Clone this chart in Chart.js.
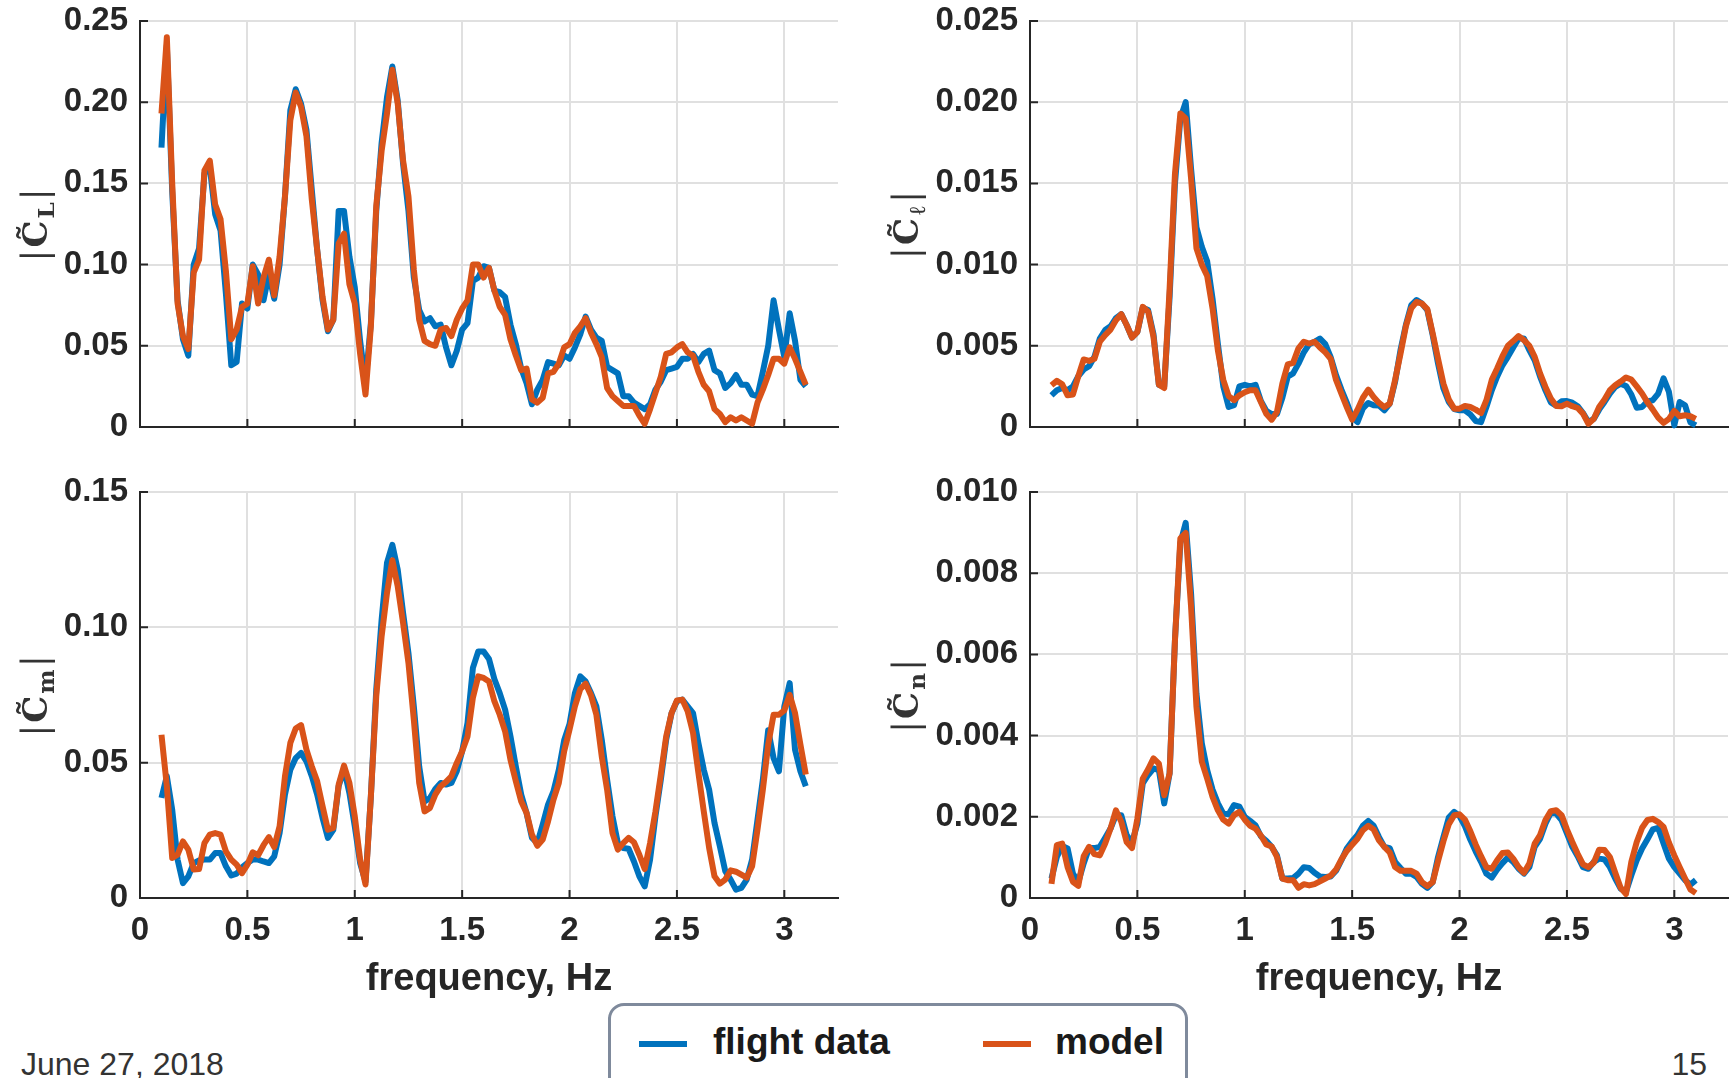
<!DOCTYPE html>
<html>
<head>
<meta charset="utf-8">
<title>frequency content</title>
<script src="https://cdn.jsdelivr.net/npm/chart.js@4.4.1/dist/chart.umd.min.js"></script>
<style>
  body { margin: 0; background: #fff; }
  #page { position: relative; width: 1733px; height: 1078px; overflow: hidden; background: #fff;
          font-family: "Liberation Sans", Arial, sans-serif; }
  canvas { position: absolute; }
  #legend { position: absolute; left: 608px; top: 1003px; width: 580px; height: 100px;
            border: 3px solid #7f8a9c; border-radius: 16px; box-sizing: border-box; }
  #legend .swatch { position: absolute; top: 35px; height: 6px; width: 48px; }
  #legend .txt { position: absolute; top: 14px; font-weight: bold; font-size: 37px; color: #1a1a1a; line-height: 44px; }
  .foot { position: absolute; top: 1045px; font-size: 32px; color: #333; line-height: 38px; }
</style>
</head>
<body>
<div id="page">
  <canvas id="cl" width="866" height="460" style="left:0;top:0"></canvas>
  <canvas id="croll" width="867" height="460" style="left:866px;top:0"></canvas>
  <canvas id="cm" width="866" height="537" style="left:0;top:465px"></canvas>
  <canvas id="cn" width="867" height="537" style="left:866px;top:465px"></canvas>
  <div id="legend">
    <span class="swatch" style="left:28px;background:#0072BD"></span>
    <span class="txt" style="left:102px">flight data</span>
    <span class="swatch" style="left:372px;background:#D95319"></span>
    <span class="txt" style="left:444px">model</span>
  </div>
  <div class="foot" style="left:21px">June 27, 2018</div>
  <div class="foot" style="right:26px">15</div>
</div>
<script>
const blue = "#0072BD";
const orange = "#D95319";
const axisColor = "#262626";

// frequency, Hz
const freq = [
  0.1, 0.125, 0.15, 0.175, 0.2, 0.225, 0.25, 0.275, 0.3, 0.325,
  0.35, 0.375, 0.4, 0.425, 0.45, 0.475, 0.5, 0.525, 0.55, 0.575,
  0.6, 0.625, 0.65, 0.675, 0.7, 0.725, 0.75, 0.775, 0.8, 0.825,
  0.85, 0.875, 0.9, 0.925, 0.95, 0.975, 1, 1.025, 1.05, 1.075,
  1.1, 1.125, 1.15, 1.175, 1.2, 1.225, 1.25, 1.275, 1.3, 1.325,
  1.35, 1.375, 1.4, 1.425, 1.45, 1.475, 1.5, 1.525, 1.55, 1.575,
  1.6, 1.625, 1.65, 1.675, 1.7, 1.725, 1.75, 1.775, 1.8, 1.825,
  1.85, 1.875, 1.9, 1.925, 1.95, 1.975, 2, 2.025, 2.05, 2.075,
  2.1, 2.125, 2.15, 2.175, 2.2, 2.225, 2.25, 2.275, 2.3, 2.325,
  2.35, 2.375, 2.4, 2.425, 2.45, 2.475, 2.5, 2.525, 2.55, 2.575,
  2.6, 2.625, 2.65, 2.675, 2.7, 2.725, 2.75, 2.775, 2.8, 2.825,
  2.85, 2.875, 2.9, 2.925, 2.95, 2.975, 3, 3.025, 3.05, 3.075,
  3.1
];

// |CL| lift
const clFlight = [
  0.172, 0.235, 0.145, 0.078, 0.054, 0.044, 0.100, 0.110, 0.156, 0.160,
  0.131, 0.121, 0.082, 0.038, 0.040, 0.076, 0.073, 0.100, 0.094, 0.078,
  0.094, 0.079, 0.100, 0.142, 0.195, 0.208, 0.199, 0.183, 0.146, 0.109,
  0.078, 0.059, 0.066, 0.133, 0.133, 0.105, 0.086, 0.053, 0.027, 0.064,
  0.133, 0.175, 0.203, 0.222, 0.201, 0.162, 0.133, 0.092, 0.072, 0.065,
  0.067, 0.062, 0.063, 0.049, 0.038, 0.047, 0.060, 0.064, 0.090, 0.092,
  0.099, 0.098, 0.084, 0.083, 0.080, 0.063, 0.051, 0.036, 0.027, 0.014,
  0.023, 0.029, 0.040, 0.039, 0.038, 0.044, 0.042, 0.049, 0.057, 0.068,
  0.060, 0.055, 0.053, 0.037, 0.035, 0.033, 0.019, 0.019, 0.015, 0.013,
  0.011, 0.014, 0.023, 0.028, 0.035, 0.036, 0.037, 0.042, 0.042, 0.045,
  0.040, 0.045, 0.047, 0.035, 0.033, 0.024, 0.027, 0.032, 0.026, 0.026,
  0.020, 0.019, 0.034, 0.050, 0.078, 0.060, 0.043, 0.070, 0.053, 0.029,
  0.025
];
const clModel = [
  0.193, 0.240, 0.150, 0.076, 0.056, 0.048, 0.095, 0.103, 0.158, 0.164,
  0.137, 0.128, 0.096, 0.054, 0.060, 0.074, 0.076, 0.099, 0.076, 0.092,
  0.103, 0.081, 0.105, 0.142, 0.189, 0.206, 0.197, 0.179, 0.140, 0.109,
  0.080, 0.060, 0.066, 0.113, 0.119, 0.088, 0.076, 0.045, 0.020, 0.062,
  0.136, 0.170, 0.193, 0.220, 0.199, 0.164, 0.142, 0.097, 0.066, 0.053,
  0.051, 0.050, 0.060, 0.061, 0.056, 0.066, 0.073, 0.078, 0.100, 0.100,
  0.092, 0.098, 0.084, 0.074, 0.069, 0.054, 0.044, 0.035, 0.036, 0.017,
  0.015, 0.018, 0.033, 0.034, 0.039, 0.049, 0.051, 0.058, 0.062, 0.067,
  0.058, 0.051, 0.043, 0.024, 0.019, 0.016, 0.013, 0.013, 0.013, 0.007,
  0.002, 0.011, 0.021, 0.031, 0.045, 0.046, 0.049, 0.051, 0.046, 0.044,
  0.034, 0.026, 0.022, 0.011, 0.008, 0.003, 0.006, 0.004, 0.006, 0.004,
  0.002, 0.015, 0.023, 0.032, 0.042, 0.042, 0.039, 0.049, 0.042, 0.034,
  0.026
];

// |Cl| rolling moment
const crollFlight = [
  0.00195, 0.00226, 0.0024, 0.00226, 0.0025, 0.00313, 0.00354, 0.00374, 0.00432, 0.00545,
  0.00597, 0.0062, 0.0067, 0.00695, 0.00628, 0.00551, 0.00586, 0.00735, 0.0072, 0.00572,
  0.0026, 0.0025, 0.008, 0.015, 0.019, 0.02, 0.0159, 0.0123, 0.0111, 0.0102,
  0.0079, 0.0051, 0.0025, 0.00123, 0.00134, 0.0025, 0.0026, 0.0025, 0.0026, 0.0016,
  0.001, 0.0008, 0.0008, 0.0018, 0.0031, 0.0033, 0.0039, 0.0046, 0.0051, 0.00525,
  0.00545, 0.0051, 0.0043, 0.0032, 0.0023, 0.0015, 0.0006, 0.0003, 0.00115, 0.00148,
  0.00134, 0.00132, 0.00103, 0.00144, 0.00278, 0.00473, 0.00628, 0.0075, 0.00782, 0.0076,
  0.0072, 0.00566, 0.0039, 0.00237, 0.00154, 0.00111, 0.00103, 0.00103, 0.00078, 0.00037,
  0.0003, 0.00123, 0.00226, 0.0031, 0.0038, 0.00432, 0.0049, 0.00545, 0.00545, 0.00473,
  0.0041, 0.0031, 0.00226, 0.00152, 0.00132, 0.00158, 0.0016, 0.0015, 0.00128, 0.00086,
  0.0003, 0.0005, 0.00107, 0.00154, 0.00206, 0.00247, 0.00267, 0.00253, 0.002, 0.00119,
  0.00123, 0.00158, 0.00165, 0.00206, 0.003, 0.00216, 0.0001, 0.00154, 0.00134, 0.00029,
  0.0001
];
const crollModel = [
  0.00257, 0.00284, 0.00263, 0.00195, 0.002, 0.00313, 0.00416, 0.00407, 0.0042, 0.00525,
  0.00566, 0.006, 0.00658, 0.00695, 0.00628, 0.00551, 0.00586, 0.0074, 0.0071, 0.00555,
  0.0026, 0.0024, 0.0085, 0.0156, 0.0193, 0.019, 0.0153, 0.011, 0.01, 0.0093,
  0.0073, 0.0047, 0.0029, 0.0019, 0.00165, 0.00195, 0.00214, 0.00226, 0.00226, 0.00154,
  0.00082, 0.00045, 0.00093, 0.00267, 0.00385, 0.00395, 0.00484, 0.00525, 0.00514, 0.00525,
  0.0049, 0.0046, 0.0042, 0.0029, 0.00206, 0.00123, 0.00045, 0.00107, 0.0018, 0.0023,
  0.00185, 0.00148, 0.00123, 0.00144, 0.0029, 0.0045, 0.0062, 0.0073, 0.0077, 0.0076,
  0.00726, 0.00576, 0.0042, 0.00267, 0.00169, 0.00113, 0.00113, 0.0013, 0.00123, 0.00107,
  0.00086, 0.00165, 0.0029, 0.0036, 0.00436, 0.005, 0.00529, 0.0056, 0.00535, 0.005,
  0.00432, 0.0033, 0.00247, 0.00175, 0.0013, 0.00128, 0.00144, 0.00128, 0.00117, 0.00082,
  0.0002, 0.0005, 0.00123, 0.00169, 0.00226, 0.00257, 0.0028, 0.00305, 0.00292, 0.0025,
  0.00206, 0.00152, 0.00107, 0.00058, 0.00025, 0.0005, 0.00099, 0.00066, 0.00072, 0.00066,
  0.0005
];

// |Cm| pitching moment
const cmFlight = [
  0.037, 0.045, 0.0326, 0.0142, 0.0055, 0.008, 0.0129, 0.0139, 0.0142, 0.0142,
  0.0166, 0.0166, 0.0117, 0.0083, 0.009, 0.0113, 0.0129, 0.0142, 0.0142, 0.0135,
  0.0129, 0.0154, 0.024, 0.0382, 0.0474, 0.0517, 0.0536, 0.0505, 0.045, 0.0382,
  0.0296, 0.0222, 0.0252, 0.0413, 0.0477, 0.0388, 0.0265, 0.0129, 0.006, 0.0376,
  0.077, 0.1028, 0.1238, 0.1305, 0.1213, 0.1053, 0.0905, 0.0708, 0.0486, 0.0357,
  0.0369, 0.0403, 0.0425, 0.0419, 0.0425, 0.0468, 0.0542, 0.0647, 0.085, 0.0911,
  0.0911, 0.0883, 0.0809, 0.0757, 0.0696, 0.0597, 0.0486, 0.0382, 0.0314, 0.0222,
  0.0203, 0.0271, 0.0345, 0.0394, 0.0474, 0.0583, 0.0643, 0.0757, 0.0819, 0.080,
  0.0757, 0.0708, 0.0585, 0.0437, 0.0302, 0.0203, 0.0185, 0.0182, 0.0135, 0.008,
  0.0043, 0.0142, 0.0302, 0.0437, 0.0585, 0.0683, 0.0727, 0.0733, 0.0708, 0.0683,
  0.0573, 0.0474, 0.040, 0.0277, 0.0191, 0.0099, 0.0068, 0.0031, 0.0037, 0.0068,
  0.0142, 0.0289, 0.0437, 0.062, 0.0517, 0.0468, 0.0708, 0.0794, 0.0548, 0.0468,
  0.0413
];
const cmModel = [
  0.0603, 0.0413, 0.0148, 0.016, 0.0209, 0.0179, 0.0105, 0.0107, 0.0203, 0.0234,
  0.024, 0.0234, 0.0172, 0.0142, 0.0123, 0.0092, 0.0123, 0.0169, 0.0158, 0.0195,
  0.0225, 0.0188, 0.0265, 0.045, 0.0573, 0.0626, 0.0639, 0.0548, 0.0486, 0.0431,
  0.0339, 0.0252, 0.0259, 0.0419, 0.0489, 0.0425, 0.0302, 0.0142, 0.005, 0.0376,
  0.0745, 0.0967, 0.1127, 0.1248, 0.1151, 0.1016, 0.0868, 0.0659, 0.0425, 0.032,
  0.0333, 0.0382, 0.0413, 0.0429, 0.045, 0.0499, 0.0542, 0.0597, 0.074, 0.0819,
  0.0813, 0.080, 0.0727, 0.0677, 0.0616, 0.0511, 0.0431, 0.0357, 0.0314, 0.0234,
  0.0193, 0.0216, 0.0283, 0.0363, 0.0425, 0.0542, 0.0622, 0.0708, 0.0772, 0.0792,
  0.0748, 0.0677, 0.0523, 0.040, 0.024, 0.0179, 0.0203, 0.0222, 0.0206, 0.016,
  0.0107, 0.0203, 0.032, 0.0456, 0.0597, 0.0683, 0.073, 0.0733, 0.069, 0.061,
  0.0462, 0.032, 0.0185, 0.008, 0.0053, 0.0068, 0.0102, 0.0097, 0.0086, 0.0075,
  0.0117, 0.0252, 0.040, 0.0567, 0.0677, 0.0677, 0.0693, 0.0751, 0.0683, 0.0567,
  0.0456
];

// |Cn| yawing moment
const cnFlight = [
  0.00048, 0.00101, 0.00128, 0.00122, 0.0006, 0.00039, 0.00085, 0.00123, 0.00123, 0.00126,
  0.00148, 0.00171, 0.00204, 0.00204, 0.00155, 0.00136, 0.00183, 0.00282, 0.00303, 0.00319,
  0.00315, 0.00233, 0.00307, 0.00636, 0.00874, 0.00924, 0.0075, 0.00504, 0.00381, 0.00315,
  0.00267, 0.00233, 0.00208, 0.00206, 0.00229, 0.00225, 0.002, 0.0019, 0.00179, 0.00152,
  0.00141, 0.00126, 0.00105, 0.00048, 0.00048, 0.00049, 0.0006, 0.00076, 0.00074, 0.00062,
  0.00053, 0.00052, 0.00053, 0.00067, 0.00093, 0.00122, 0.0014, 0.00155, 0.00178, 0.0019,
  0.00178, 0.0015, 0.00126, 0.00123, 0.00089, 0.00074, 0.0006, 0.0006, 0.00052, 0.00035,
  0.00025, 0.00039, 0.00101, 0.0015, 0.00198, 0.00212, 0.00202, 0.00177, 0.00144, 0.00115,
  0.00089, 0.0006, 0.0005, 0.0007, 0.00086, 0.001, 0.00089, 0.00072, 0.0006, 0.00076,
  0.00126, 0.00146, 0.00183, 0.0021, 0.00208, 0.00192, 0.00159, 0.00126, 0.00103, 0.00076,
  0.00072, 0.00089, 0.00097, 0.00095, 0.00076, 0.00048, 0.00023, 0.00015, 0.00056, 0.00093,
  0.00122, 0.00145, 0.00169, 0.00173, 0.00134, 0.00097, 0.00076, 0.0006, 0.00044, 0.00033,
  0.00044
];
const cnModel = [
  0.00035, 0.0013, 0.00134, 0.00076, 0.0004, 0.0003, 0.00103, 0.00126, 0.00108, 0.00105,
  0.00134, 0.00171, 0.00216, 0.00188, 0.00138, 0.00123, 0.00196, 0.00294, 0.00317, 0.00344,
  0.00331, 0.00253, 0.00307, 0.00636, 0.00886, 0.00899, 0.00718, 0.00471, 0.00336, 0.00294,
  0.00249, 0.00216, 0.00193, 0.00183, 0.00204, 0.00212, 0.00193, 0.00178, 0.00171, 0.00154,
  0.00132, 0.00127, 0.00101, 0.00048, 0.00044, 0.00044, 0.00025, 0.00034, 0.00031, 0.00034,
  0.00041, 0.00048, 0.00055, 0.0007, 0.00095, 0.00116, 0.00131, 0.00146, 0.00167, 0.00178,
  0.00169, 0.00142, 0.00126, 0.00112, 0.00076, 0.00067, 0.00067, 0.00067, 0.0006, 0.00039,
  0.00029, 0.00039, 0.00091, 0.0014, 0.00182, 0.00204, 0.00206, 0.00193, 0.00165, 0.00132,
  0.00103, 0.00076, 0.00072, 0.00093, 0.00111, 0.00112, 0.00097, 0.00076, 0.00062, 0.00085,
  0.00134, 0.00155, 0.00192, 0.00214, 0.00216, 0.00204, 0.00169, 0.00138, 0.00109, 0.00083,
  0.00076, 0.00087, 0.00119, 0.00118, 0.00101, 0.00062, 0.00025, 0.0001, 0.00089, 0.00138,
  0.00173, 0.00192, 0.00195, 0.00187, 0.00175, 0.00136, 0.00105, 0.00076, 0.00048, 0.00021,
  0.00012
];

// tick labels
const freqTicks = ["0", "0.5", "1", "1.5", "2", "2.5", "3"];
const clTicks = ["0", "0.05", "0.10", "0.15", "0.20", "0.25"];
const crollTicks = ["0", "0.005", "0.010", "0.015", "0.020", "0.025"];
const cmTicks = ["0", "0.05", "0.10", "0.15"];
const cnTicks = ["0", "0.002", "0.004", "0.006", "0.008", "0.010"];

const tickFont = { family: "'Liberation Sans', Arial, sans-serif", size: 33, weight: "bold" };

function pairs(xs, ys) {
  return xs.map((x, i) => ({ x: x, y: ys[i] }));
}

// fixed axis boxes, no extra room for the end labels
function fixBox(s, key, size) {
  s[key] = size;
  s.paddingTop = 0;
  s.paddingBottom = 0;
  s.paddingLeft = 0;
  s.paddingRight = 0;
}

// short inward tick marks on both axes
const innerTicks = {
  id: "innerTicks",
  beforeDatasetsDraw(chart) {
    const { ctx, chartArea, scales } = chart;
    ctx.save();
    ctx.strokeStyle = axisColor;
    ctx.lineWidth = 2;
    ctx.beginPath();
    scales.y.ticks.forEach((t) => {
      const y = scales.y.getPixelForValue(t.value);
      ctx.moveTo(chartArea.left, y);
      ctx.lineTo(chartArea.left + 8, y);
    });
    scales.x.ticks.forEach((t) => {
      const x = scales.x.getPixelForValue(t.value);
      ctx.moveTo(x, chartArea.bottom);
      ctx.lineTo(x, chartArea.bottom - 8);
    });
    ctx.stroke();
    ctx.restore();
  },
};

// rotated |C~x| axis label
const coefLabel = {
  id: "coefLabel",
  afterDraw(chart, args, opts) {
    const { ctx, chartArea } = chart;
    const cy = (chartArea.top + chartArea.bottom) / 2;
    const parts = [
      { font: "36px 'DejaVu Serif'", text: "|", dy: 0 },
      { font: "bold 34px 'DejaVu Serif'", text: "C\u0303", dy: 0 },
      { font: (opts.italic ? "" : "bold ") + "23px 'DejaVu Serif'", text: opts.sub, dy: 7 },
      { font: "36px 'DejaVu Serif'", text: "|", dy: 0 },
    ];
    ctx.save();
    ctx.translate(opts.x, cy);
    ctx.rotate(-Math.PI / 2);
    ctx.fillStyle = "#333";
    ctx.textBaseline = "alphabetic";
    let total = 0;
    parts.forEach((p) => {
      ctx.font = p.font;
      p.w = ctx.measureText(p.text).width + 2;
      total += p.w;
    });
    let x = -total / 2;
    parts.forEach((p) => {
      ctx.font = p.font;
      ctx.fillText(p.text, x, 12 + p.dy);
      x += p.w;
    });
    ctx.restore();
  },
};

function makePanel(id, cfg) {
  return new Chart(document.getElementById(id), {
    type: "line",
    data: {
      datasets: [
        { label: "flight data", data: pairs(freq, cfg.flight), borderColor: blue, order: 1 },
        { label: "model", data: pairs(freq, cfg.model), borderColor: orange, order: 0 },
      ],
    },
    options: {
      responsive: false,
      animation: false,
      events: [],
      layout: { padding: cfg.padding },
      elements: {
        line: { borderWidth: 6, tension: 0, borderJoinStyle: "round", fill: false },
        point: { radius: 0 },
      },
      datasets: { line: { clip: 8 } },
      plugins: {
        legend: { display: false },
        tooltip: { enabled: false },
        coefLabel: cfg.label,
      },
      scales: {
        x: {
          type: "linear",
          min: 0,
          max: 3.25,
          grid: { color: "#e0e0e0", lineWidth: 2, drawTicks: false },
          border: { display: true, color: axisColor, width: 2 },
          ticks: {
            display: cfg.showX,
            stepSize: 0.5,
            includeBounds: false,
            maxRotation: 0,
            autoSkip: false,
            padding: 13,
            color: axisColor,
            font: tickFont,
            callback: (v, i) => freqTicks[i],
          },
          title: {
            display: cfg.showX,
            text: "frequency, Hz",
            color: axisColor,
            padding: 0,
            font: { family: "'Liberation Sans', Arial, sans-serif", size: 38, weight: "bold" },
          },
          afterFit: (s) => fixBox(s, "height", cfg.xHeight),
        },
        y: {
          min: 0,
          max: cfg.yMax,
          grid: { color: "#e0e0e0", lineWidth: 2, drawTicks: false },
          border: { display: true, color: axisColor, width: 2 },
          ticks: {
            stepSize: cfg.yStep,
            autoSkip: false,
            padding: 12,
            color: axisColor,
            font: tickFont,
            callback: (v, i) => cfg.yTicks[i],
          },
          afterFit: (s) => fixBox(s, "width", cfg.yWidth),
        },
      },
    },
    plugins: [innerTicks, coefLabel],
  });
}

makePanel("cl", {
  flight: clFlight, model: clModel, yMax: 0.25, yStep: 0.05, yTicks: clTicks,
  padding: { top: 21, right: 28, left: 0, bottom: 0 }, yWidth: 140, xHeight: 33, showX: false,
  label: { x: 35, sub: "L" },
});
makePanel("croll", {
  flight: crollFlight, model: crollModel, yMax: 0.025, yStep: 0.005, yTicks: crollTicks,
  padding: { top: 21, right: 5, left: 0, bottom: 0 }, yWidth: 164, xHeight: 33, showX: false,
  label: { x: 40, sub: "\u2113", italic: true },
});
makePanel("cm", {
  flight: cmFlight, model: cmModel, yMax: 0.15, yStep: 0.05, yTicks: cmTicks,
  padding: { top: 27, right: 28, left: 0, bottom: 0 }, yWidth: 140, xHeight: 104, showX: true,
  label: { x: 35, sub: "m" },
});
makePanel("cn", {
  flight: cnFlight, model: cnModel, yMax: 0.010, yStep: 0.002, yTicks: cnTicks,
  padding: { top: 27, right: 5, left: 0, bottom: 0 }, yWidth: 164, xHeight: 104, showX: true,
  label: { x: 40, sub: "n" },
});
</script>
</body>
</html>
